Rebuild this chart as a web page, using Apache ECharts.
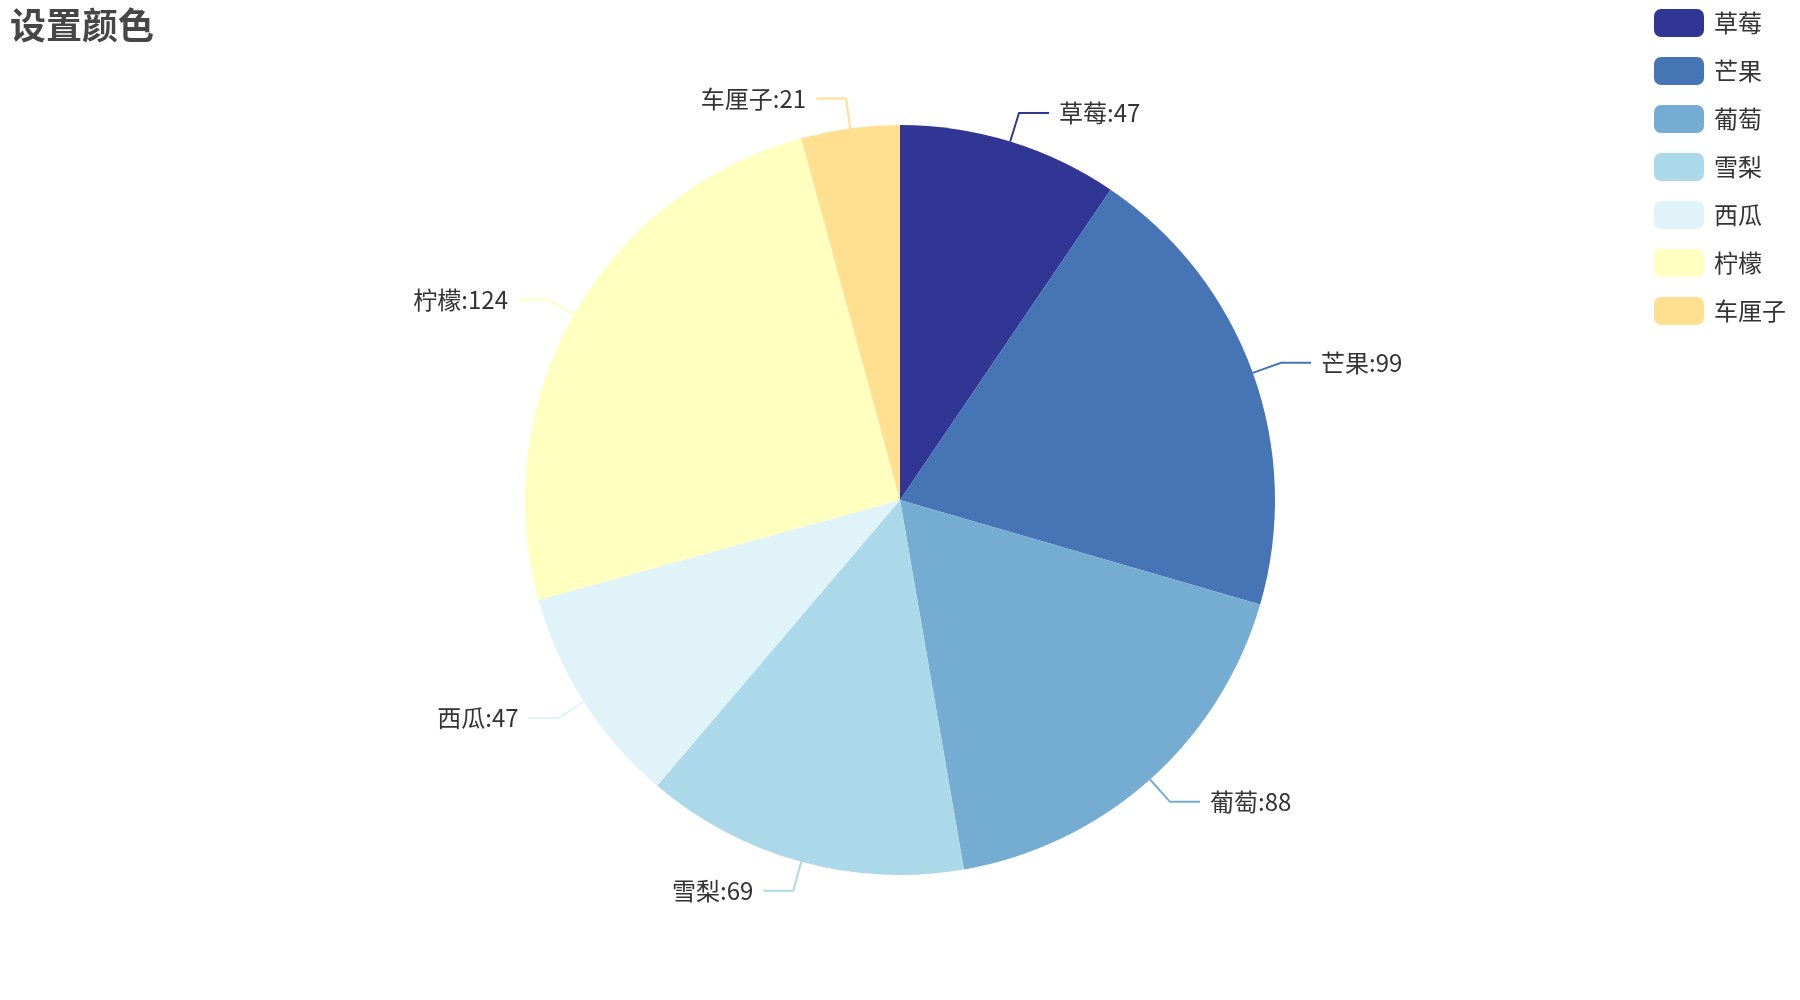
<!DOCTYPE html>
<html><head><meta charset="utf-8">
<script src="https://cdn.jsdelivr.net/npm/echarts@6/dist/echarts.min.js"></script>
<style>html,body{margin:0;padding:0;background:#fff}#c{width:1800px;height:1000px}</style>
</head><body><div id="c"></div>
<script>
const categories = ['草莓','芒果','葡萄','雪梨','西瓜','柠檬','车厘子'];
const values = [47, 99, 88, 69, 47, 124, 21];
const colors = ['#313695','#4575b4','#74add1','#abd9e9','#e0f3f8','#ffffbf','#fee090'];
const font = '"Microsoft YaHei","Noto Sans CJK SC",sans-serif';
const chart = echarts.init(document.getElementById('c'));
chart.setOption({
  animation: false,
  color: colors,
  title: {text: '设置颜色', left: 0, top: -3, padding: 10,
    textStyle: {fontSize: 36, fontWeight: 'bold', color: '#464646', fontFamily: font}},
  legend: {orient: 'vertical', right: 4, top: -1, padding: 10,
    itemWidth: 50, itemHeight: 28, itemGap: 20, itemStyle: {borderRadius: 8},
    textStyle: {fontSize: 24, color: '#333', fontFamily: font, padding: [0, 0, 0, 5]},
    data: categories},
  series: [{
    type: 'pie', center: ['50%','50%'], radius: ['0%','75%'],
    data: categories.map((n,i)=>({name:n, value:values[i]})),
    label: {show: true, formatter: '{b}:{c}', fontSize: 24, color: '#333', fontFamily: font, distanceToLabelLine: 10},
    labelLine: {length: 30, length2: 30, lineStyle: {width: 2}},
    itemStyle: {borderWidth: 0}
  }]
});
</script></body></html>
